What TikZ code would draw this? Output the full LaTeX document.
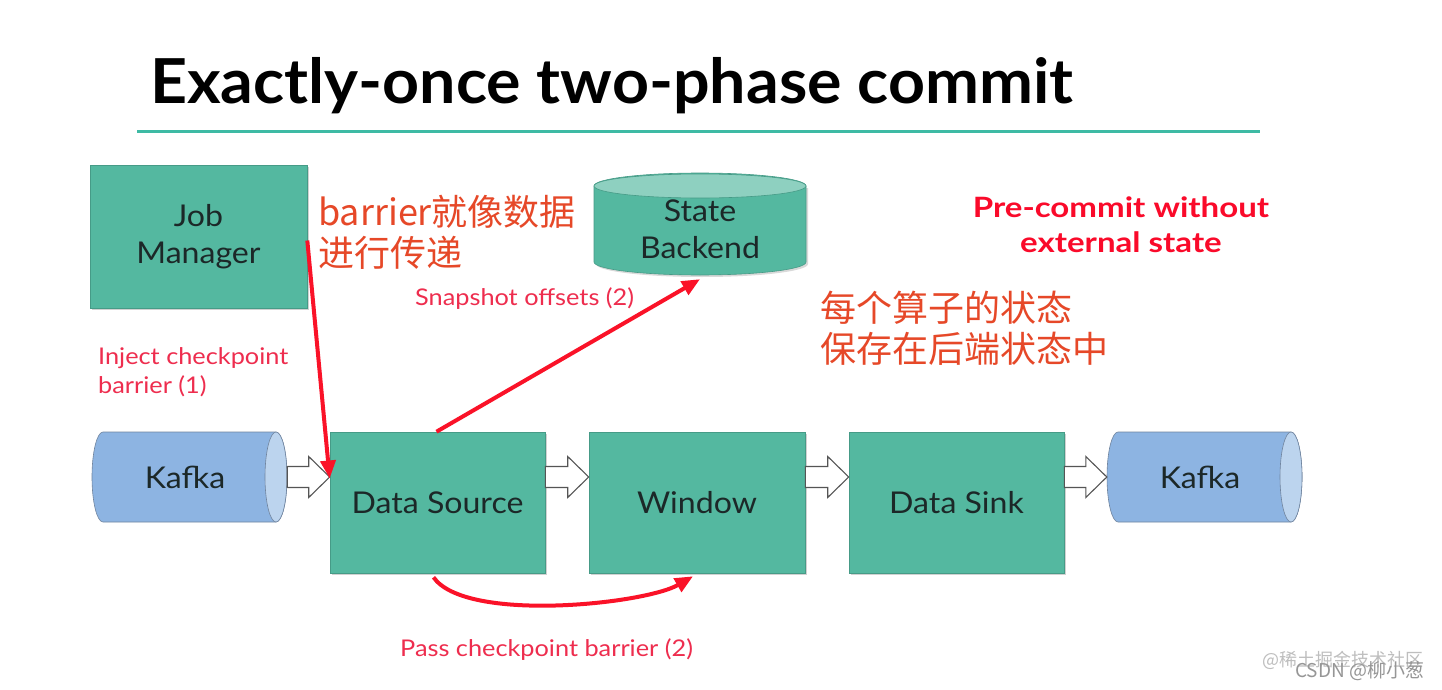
\documentclass[tikz,border=0pt]{standalone}
\usepackage{fontspec}
\setmainfont{Lato}
\newfontfamily\titlefont[FakeStretch=1.04]{Lato}
\newfontfamily\boxfont[FakeStretch=1.07]{Lato}
\newfontfamily\labelfont[FakeStretch=1.1]{Lato}
\newfontfamily\boldfont[FakeStretch=1.18]{Lato}
\newfontfamily\cjk{Noto Sans CJK SC}
\usetikzlibrary{arrows.meta,calc,shadows}
\definecolor{boxteal}{RGB}{84,184,160}
\definecolor{boxedge}{RGB}{70,155,135}
\definecolor{topteal}{RGB}{142,208,192}
\definecolor{ruleteal}{RGB}{62,186,164}
\definecolor{kafkabody}{RGB}{141,180,226}
\definecolor{kafkaend}{RGB}{188,212,238}
\definecolor{kafkaedge}{RGB}{112,132,158}
\definecolor{boxtext}{RGB}{28,40,40}
\definecolor{arrowred}{RGB}{250,18,40}
\definecolor{labelpink}{RGB}{238,45,78}
\definecolor{boldred}{RGB}{250,10,42}
\definecolor{cnred}{RGB}{230,72,40}
\definecolor{hollowedge}{RGB}{85,85,85}
\definecolor{wmlight}{RGB}{190,190,190}
\definecolor{wmdark}{RGB}{150,150,150}
\tikzset{
  box/.style={draw=boxedge, line width=0.6pt, fill=boxteal, inner sep=0pt, align=center,
    text=boxtext, font=\boxfont\fontsize{30}{37}\selectfont,
    drop shadow={shadow xshift=1.5pt, shadow yshift=-2pt, opacity=0.18, fill=black}},
  boxlabel/.style={inner sep=0pt, align=center, text=boxtext, font=\boxfont\fontsize{30}{37}\selectfont},
  redarrow/.style={draw=arrowred, line width=4pt, -{Triangle[length=18pt,width=15pt]}},
  hollowarrow/.style={draw=hollowedge, line width=1.1pt, fill=white,
    to path={let \p1=(\tikztostart), \p2=(\tikztotarget) in
      (\x1,\y1+10.5) -- (\x2-21,\y1+10.5) -- (\x2-21,\y1+20.5) -- (\x2,\y1)
      -- (\x2-21,\y1-20.5) -- (\x2-21,\y1-10.5) -- (\x1,\y1-10.5) -- cycle}},
  pinklabel/.style={inner sep=0pt, text=labelpink, font=\labelfont\fontsize{23}{28}\selectfont},
  boldlabel/.style={inner sep=0pt, text=boldred, font=\boldfont\fontsize{28}{34}\selectfont\bfseries},
  cnlabel/.style={inner sep=0pt, text=cnred, font=\cjk\fontsize{36}{40}\selectfont},
}
\begin{document}
\begin{tikzpicture}[x=1pt,y=1pt]
\useasboundingbox (0,0) rectangle (1442,-690);
\fill[white] (0,0) rectangle (1442,-690);

% title
\node[anchor=base west, inner sep=0pt, font=\titlefont\fontsize{62}{70}\selectfont\bfseries] (title) at (150,-103) {Exactly-once two-phase commit};
\draw[ruleteal, line width=3pt] (137,-132) -- (1260,-132);

% Job Manager
\node[box, minimum width=217pt, minimum height=143pt] (jm) at (198.5,-236.5) {Job\\Manager};

% State Backend cylinder
\fill[black, opacity=0.15] (596,-188) -- (596,-264) arc[start angle=180, end angle=360, x radius=106pt, y radius=13pt] -- (808,-188) -- cycle;
\draw[boxedge, line width=0.6pt, fill=boxteal] (594,-186) -- (594,-262) arc[start angle=180, end angle=360, x radius=106pt, y radius=13pt] -- (806,-186) arc[start angle=0, end angle=180, x radius=106pt, y radius=13pt] -- cycle;
\draw[boxedge, line width=0.6pt, fill=topteal] (700,-186) ellipse[x radius=106pt, y radius=12pt];
\node[boxlabel, minimum width=212pt, minimum height=92pt] (sb) at (700,-229) {State\\Backend};

% Kafka left
\draw[kafkaedge, line width=0.6pt, fill=kafkabody] (103,-432) -- (276,-432) arc[start angle=90, end angle=-90, x radius=11pt, y radius=45pt] -- (103,-522) arc[start angle=270, end angle=90, x radius=11pt, y radius=45pt] -- cycle;
\draw[kafkaedge, line width=0.6pt, fill=kafkaend] (276,-477) ellipse[x radius=11pt, y radius=45pt];
\node[boxlabel, minimum width=195pt, minimum height=90pt] (kl) at (189.5,-477) {};
\node[boxlabel, anchor=base] (kltext) at (185,-488) {Kafka};

% Kafka right
\draw[kafkaedge, line width=0.6pt, fill=kafkabody] (1118,-432) -- (1291,-432) arc[start angle=90, end angle=-90, x radius=11pt, y radius=45pt] -- (1118,-522) arc[start angle=270, end angle=90, x radius=11pt, y radius=45pt] -- cycle;
\draw[kafkaedge, line width=0.6pt, fill=kafkaend] (1291,-477) ellipse[x radius=11pt, y radius=45pt];
\node[boxlabel, minimum width=195pt, minimum height=90pt] (kr) at (1204.5,-477) {};
\node[boxlabel, anchor=base] (krtext) at (1200,-488) {Kafka};

% operators
\node[box, minimum width=215pt, minimum height=141pt] (ds) at (437.5,-502.5) {Data Source};
\node[box, minimum width=216pt, minimum height=141pt] (win) at (697,-502.5) {Window};
\node[box, minimum width=215pt, minimum height=141pt] (sink) at (956.5,-502.5) {Data Sink};

% hollow arrows
\coordinate (ay) at (0,-477);
\draw[hollowarrow] (kl.east |- ay) to (ds.west |- ay);
\draw[hollowarrow] (ds.east |- ay) to (win.west |- ay);
\draw[hollowarrow] (win.east |- ay) to (sink.west |- ay);
\draw[hollowarrow] (sink.east |- ay) to (kr.west |- ay);

% red arrows
\draw[redarrow] ([yshift=-4pt]jm.east) -- ([yshift=24pt]ds.west);
\draw[redarrow] ([xshift=-1pt]ds.north) -- ([yshift=-4pt]sb.south);
\draw[redarrow] ([xshift=-4pt,yshift=-4pt]ds.south) to[out=-55, in=-150, looseness=0.55] ([xshift=-4pt,yshift=-3pt]win.south);

% labels
\node[pinklabel, anchor=base west] (inj1) at (98,-364) {Inject checkpoint};
\node[pinklabel, anchor=base west] (inj2) at (98,-393) {barrier (1)};
\node[pinklabel, anchor=base west] (snap) at (415,-305) {Snapshot offsets (2)};
\node[pinklabel, anchor=base west] (pass) at (400,-656) {Pass checkpoint barrier (2)};
\node[boldlabel, anchor=base] (pre1) at (1121,-217) {Pre-commit without};
\node[boldlabel, anchor=base] (pre2) at (1121,-252) {external state};
\node[cnlabel, anchor=west] (cn1) at (318,-212) {barrier就像数据};
\node[cnlabel, anchor=west] (cn2) at (318,-253) {进行传递};
\node[cnlabel, anchor=west] (cn3) at (820,-308) {每个算子的状态};
\node[cnlabel, anchor=west] (cn4) at (820,-349) {保存在后端状态中};

% watermark
\node[inner sep=0pt, anchor=west, text=wmlight, font=\cjk\fontsize{18}{20}\selectfont] (wm1) at (1262,-660) {@稀土掘金技术社区};
\node[inner sep=0pt, anchor=west, text=wmdark, font=\cjk\fontsize{19}{20}\selectfont] (wm2) at (1295,-671) {CSDN @柳小葱};
\end{tikzpicture}
\end{document}
